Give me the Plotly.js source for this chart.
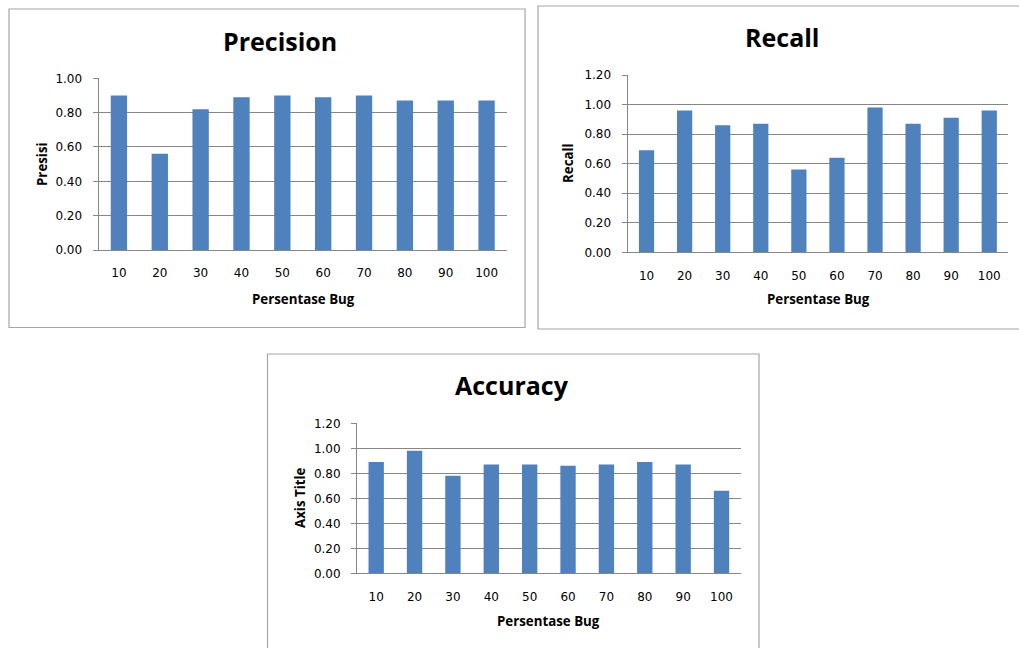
<!DOCTYPE html>
<html>
<head>
<meta charset="utf-8">
<script src="https://cdn.plot.ly/plotly-3.0.1.min.js"></script>
<style>
  html, body { margin: 0; padding: 0; background: #ffffff; }
  #chart { width: 1019px; height: 648px; }
</style>
</head>
<body>
<div id="chart"></div>
<script>
// Bug percentage categories shared by all three panels
const bugPercent = ['10', '20', '30', '40', '50', '60', '70', '80', '90', '100'];

// Measured scores per bug percentage
const precisionValues = [0.90, 0.56, 0.82, 0.89, 0.90, 0.89, 0.90, 0.87, 0.87, 0.87];
const recallValues    = [0.69, 0.96, 0.86, 0.87, 0.56, 0.64, 0.98, 0.87, 0.91, 0.96];
const accuracyValues  = [0.89, 0.98, 0.78, 0.87, 0.87, 0.86, 0.87, 0.89, 0.87, 0.66];

const W = 1019, H = 648;
const px = v => v / W;          // pixel -> paper x
const py = v => 1 - v / H;      // pixel -> paper y

const BAR = '#4f81bd';
const GRID = '#868686';
const BOX = '#a6a6a6';
const tickFont = { family: 'DejaVu Sans, Verdana, sans-serif', size: 12, color: '#000000' };
const titleFont = { family: 'Open Sans, Liberation Sans, sans-serif', size: 25, color: '#000000', weight: 'bold' };
const axisTitleFont = { family: 'Open Sans, Liberation Sans, sans-serif', size: 13.3, color: '#000000', weight: 'bold' };

function barTrace(values, xa, ya) {
  return {
    type: 'bar', x: bugPercent, y: values, xaxis: xa, yaxis: ya,
    marker: { color: BAR, line: { width: 0 } },
    hoverinfo: 'x+y', showlegend: false
  };
}

function xAxis(domain, anchor) {
  return {
    domain: domain, anchor: anchor, type: 'category',
    showgrid: false, zeroline: false,
    showline: true, linecolor: GRID, linewidth: 1,
    ticks: '', ticklabelstandoff: 12,
    tickfont: tickFont, fixedrange: true
  };
}

function yAxis(domain, anchor, maxVal) {
  return {
    domain: domain, anchor: anchor,
    range: [0, maxVal], dtick: 0.2, tick0: 0, tickformat: '.2f',
    showgrid: true, gridcolor: GRID, gridwidth: 1,
    zeroline: false,
    showline: true, linecolor: GRID, linewidth: 1,
    ticks: 'outside', ticklen: 5, tickcolor: GRID, tickwidth: 1,
    ticklabelstandoff: 8,
    tickfont: tickFont, fixedrange: true
  };
}

const data = [
  barTrace(precisionValues, 'x', 'y'),
  barTrace(recallValues, 'x2', 'y2'),
  barTrace(accuracyValues, 'x3', 'y3')
];

function label(text, x, y, font, angle) {
  return {
    text: text, xref: 'paper', yref: 'paper', x: px(x), y: py(y),
    xanchor: 'center', yanchor: 'middle', showarrow: false,
    font: font, textangle: angle || 0
  };
}

function frame(x0, y0, x1, y1) {
  return {
    type: 'rect', xref: 'paper', yref: 'paper',
    x0: px(x0), x1: px(x1), y0: py(y1), y1: py(y0),
    line: { color: BOX, width: 1.2 }, fillcolor: 'rgba(0,0,0,0)', layer: 'below'
  };
}

const layout = {
  width: W, height: H,
  margin: { l: 0, r: 0, t: 0, b: 0 },
  paper_bgcolor: '#ffffff', plot_bgcolor: '#ffffff',
  bargap: 0.6,
  xaxis:  xAxis([px(98.5), px(507)], 'y'),
  yaxis:  yAxis([py(250), py(78.3)], 'x', 1.0),
  xaxis2: xAxis([px(627.5), px(1008.3)], 'y2'),
  yaxis2: yAxis([py(252.3), py(75)], 'x2', 1.2),
  xaxis3: xAxis([px(357), px(740.7)], 'y3'),
  yaxis3: yAxis([py(573.3), py(423.3)], 'x3', 1.2),
  shapes: [
    frame(9, 9, 525, 327.5),
    frame(538, 6, 1025, 329),
    frame(267.5, 354, 759, 660)
  ],
  annotations: [
    label('Precision', 280, 41, titleFont),
    label('Recall', 782, 37, titleFont),
    label('Accuracy', 512, 385, titleFont),
    label('Persentase Bug', 303, 299, axisTitleFont),
    label('Persentase Bug', 818, 299, axisTitleFont),
    label('Persentase Bug', 548, 621, axisTitleFont),
    label('Presisi', 42, 164, axisTitleFont, -90),
    label('Recall', 568, 163, axisTitleFont, -90),
    label('Axis Title', 300, 498, axisTitleFont, -90)
  ]
};

Plotly.newPlot('chart', data, layout, { displayModeBar: false, staticPlot: true });
</script>
</body>
</html>
